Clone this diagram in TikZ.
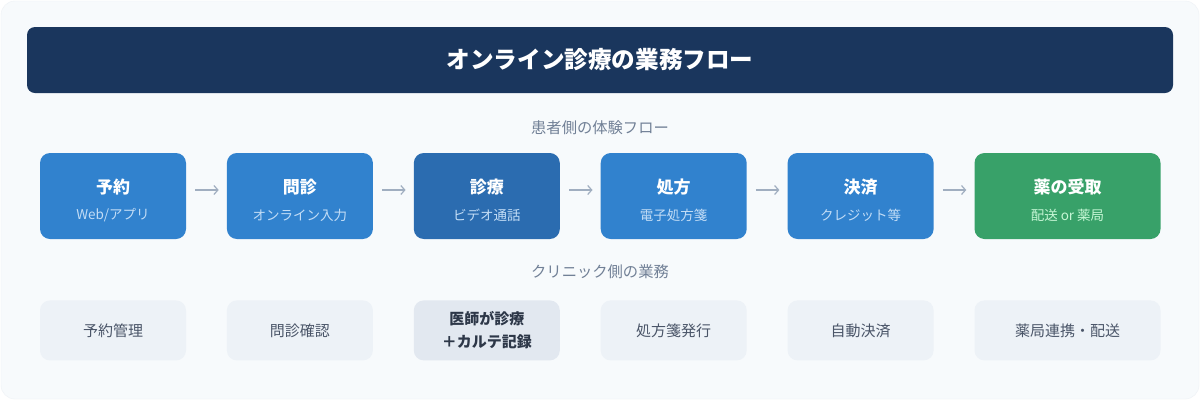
\documentclass[tikz,border=0pt]{standalone}
\usepackage{fontspec}
\setmainfont{Noto Sans CJK JP}
\usetikzlibrary{positioning,arrows.meta}
\definecolor{navy}{HTML}{1A365D}
\definecolor{flowblue}{HTML}{3182CE}
\definecolor{flowdark}{HTML}{2B6CB0}
\definecolor{flowgreen}{HTML}{38A169}
\definecolor{subblue}{HTML}{C3DDF6}
\definecolor{subgreen}{HTML}{C6F6D5}
\definecolor{panel}{HTML}{F7FAFC}
\definecolor{panelline}{HTML}{EEF2F6}
\definecolor{worklight}{HTML}{EDF2F7}
\definecolor{workdark}{HTML}{E2E8F0}
\definecolor{worktext}{HTML}{4A5568}
\definecolor{workbold}{HTML}{2D3748}
\definecolor{labelgray}{HTML}{718096}
\definecolor{arrowgray}{HTML}{A0AEC0}

\begin{document}
\begin{tikzpicture}[x=1pt, y=-1pt,
  flow/.style = {fill=flowblue, rounded corners=10pt, minimum width=146pt, minimum height=86pt, inner sep=0pt},
  work/.style = {fill=worklight, rounded corners=10pt, minimum width=146pt, minimum height=60pt, inner sep=0pt, text=worktext, font=\fontsize{15}{23}\selectfont, align=center},
  head/.style = {text=white, font=\bfseries\fontsize{17}{20}\selectfont},
  sub/.style = {text=subblue, font=\fontsize{13.5}{16}\selectfont},
  section/.style = {text=labelgray, font=\fontsize{15.3}{18}\selectfont},
  flowarrow/.style = {draw=arrowgray, line width=1.2pt, -{Straight Barb[length=4pt,width=9pt]}, shorten <=9pt, shorten >=8pt}]
\useasboundingbox[fill=white] (0,0) rectangle (1200,400);
\draw[fill=panel, draw=panelline, rounded corners=14pt] (1,1) rectangle (1199,399);

% title
\node[fill=navy, rounded corners=8pt, minimum width=1146pt, minimum height=66pt, text=white, font=\bfseries\fontsize{23.6}{28}\selectfont] (title) at (600,60) {オンライン診療の業務フロー};

% patient side
\node[section] (patient) at (600,128) {患者側の体験フロー};
\node[flow] (p1) at (113,196) {};
\node[flow] (p2) [right=40.5pt of p1] {};
\node[flow, fill=flowdark] (p3) [right=40.5pt of p2] {};
\node[flow] (p4) [right=40.5pt of p3] {};
\node[flow] (p5) [right=40.5pt of p4] {};
\node[flow, fill=flowgreen, minimum width=186pt] (p6) [right=40.5pt of p5] {};

\node[head] (p1h) at ([yshift=9pt]p1.center) {予約};
\node[sub] (p1s) at ([yshift=-19pt]p1.center) {Web/アプリ};
\node[head] (p2h) at ([yshift=9pt]p2.center) {問診};
\node[sub] (p2s) at ([yshift=-19pt]p2.center) {オンライン入力};
\node[head] (p3h) at ([yshift=9pt]p3.center) {診療};
\node[sub] (p3s) at ([yshift=-19pt]p3.center) {ビデオ通話};
\node[head] (p4h) at ([yshift=9pt]p4.center) {処方};
\node[sub] (p4s) at ([yshift=-19pt]p4.center) {電子処方箋};
\node[head] (p5h) at ([yshift=9pt]p5.center) {決済};
\node[sub] (p5s) at ([yshift=-19pt]p5.center) {クレジット等};
\node[head] (p6h) at ([yshift=9pt]p6.center) {薬の受取};
\node[sub, text=subgreen] (p6s) at ([yshift=-19pt]p6.center) {配送 or 薬局};

\draw[flowarrow] ([yshift=6pt]p1.east) -- ([yshift=6pt]p2.west);
\draw[flowarrow] ([yshift=6pt]p2.east) -- ([yshift=6pt]p3.west);
\draw[flowarrow] ([yshift=6pt]p3.east) -- ([yshift=6pt]p4.west);
\draw[flowarrow] ([yshift=6pt]p4.east) -- ([yshift=6pt]p5.west);
\draw[flowarrow] ([yshift=6pt]p5.east) -- ([yshift=6pt]p6.west);

% clinic side
\node[section] (clinic) at (600,272) {クリニック側の業務};
\node[work] (c1) [below=61pt of p1] {予約管理};
\node[work] (c2) [below=61pt of p2] {問診確認};
\node[work, fill=workdark, text=workbold, font=\bfseries\fontsize{15}{23}\selectfont] (c3) [below=61pt of p3] {医師が診療\\＋カルテ記録};
\node[work] (c4) [below=61pt of p4] {処方箋発行};
\node[work] (c5) [below=61pt of p5] {自動決済};
\node[work, minimum width=186pt] (c6) [below=61pt of p6] {薬局連携・配送};
\end{tikzpicture}
\end{document}
